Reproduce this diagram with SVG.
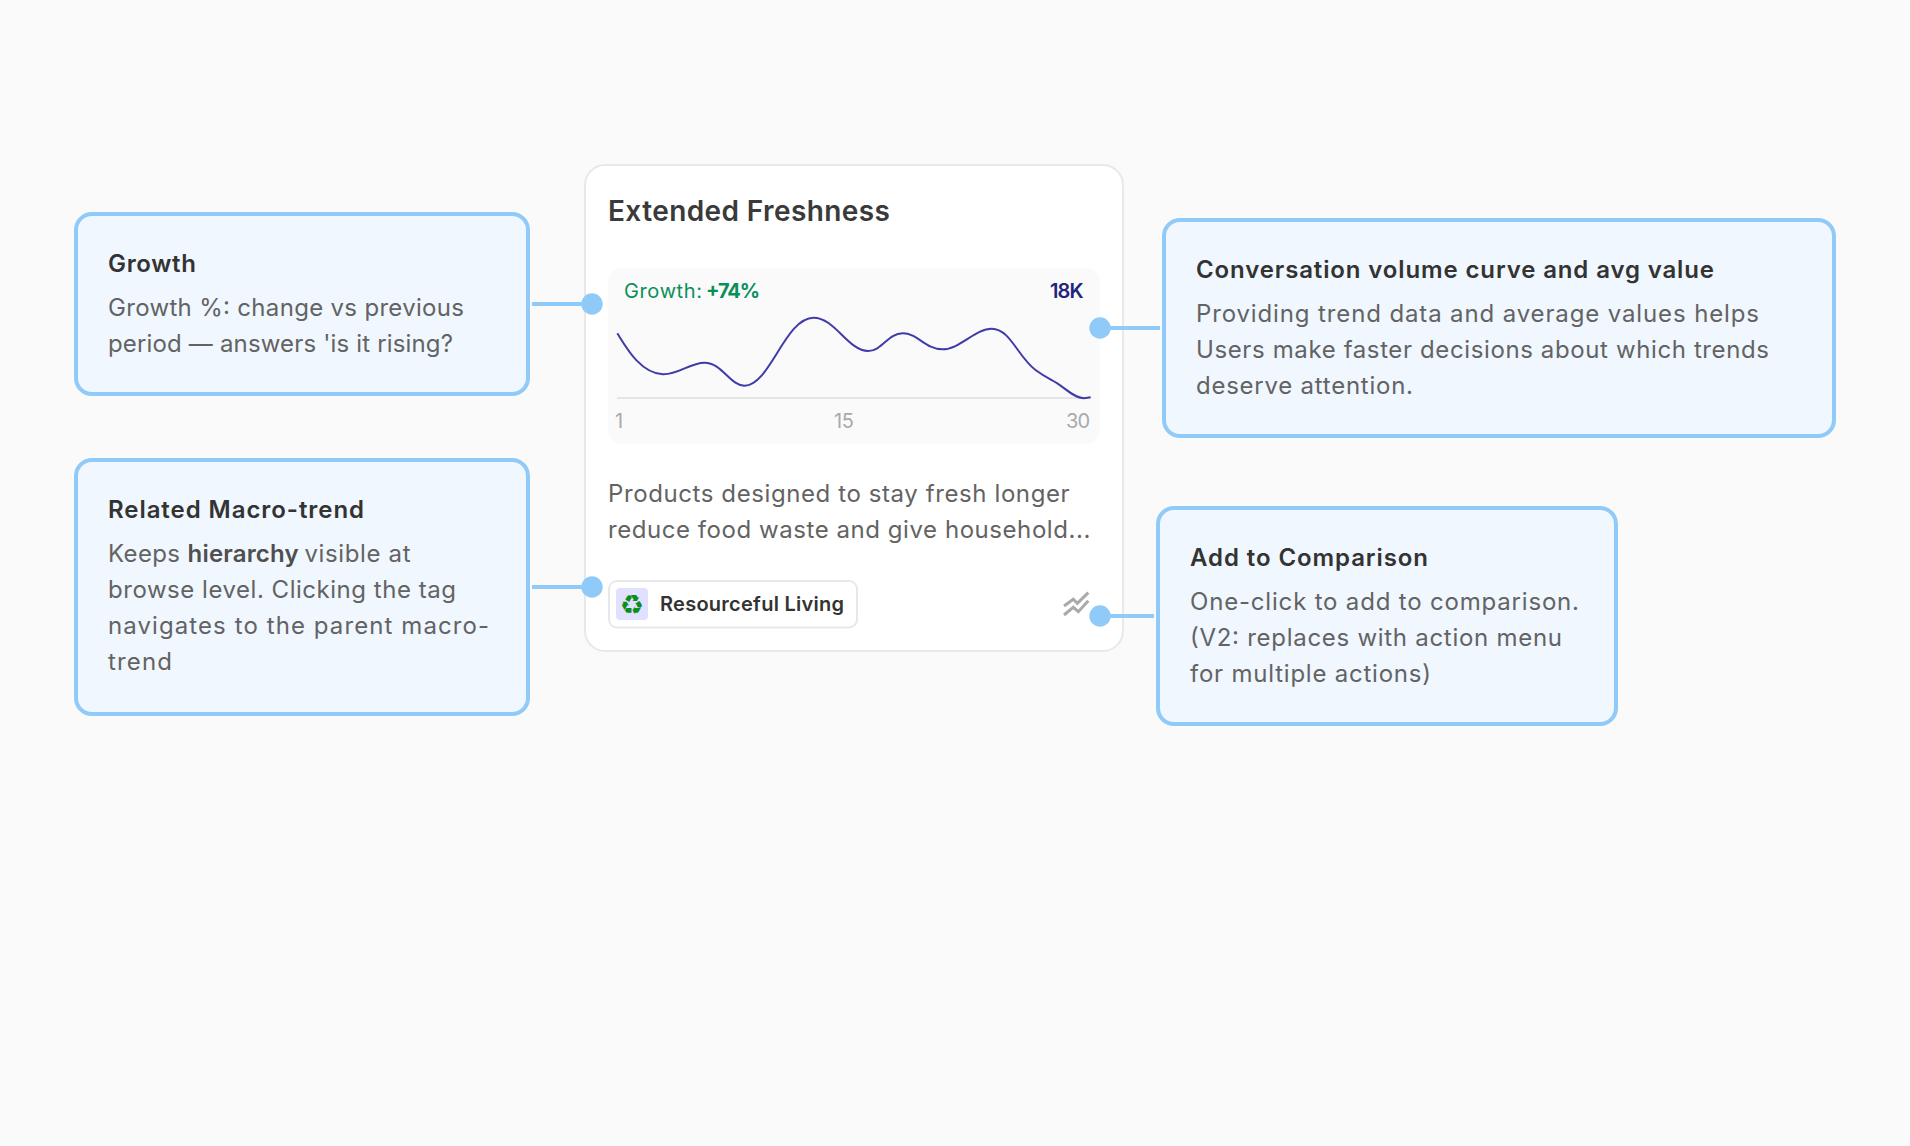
<svg xmlns="http://www.w3.org/2000/svg" width="1910" height="1146" viewBox="0 0 1910 1146">
<style>
text{font-family:"Inter","Noto Sans","Liberation Sans",sans-serif}
.box{fill:#F0F7FF;stroke:#90CAF9;stroke-width:4}
.h{font-size:24px;font-weight:600;fill:#333}
.b{font-size:24px;font-weight:400;fill:#636363}
.s{font-size:24px;font-weight:600;fill:#4f4f4f}
.ax{font-size:20px;fill:#aaa}
.ln{stroke:#90CAF9;stroke-width:4;fill:none}
.dot{fill:#90CAF9}
</style>
<rect width="1910" height="1146" fill="#FAFAFA"/>
<g id="card">
<rect x="585" y="165" width="538" height="486" rx="20" fill="#fff" stroke="#E8E8E8" stroke-width="2"/>
<text x="608" y="221" font-size="28" font-weight="600" fill="#3a3a3a" textLength="282">Extended Freshness</text>
<rect x="608" y="268" width="492" height="176" rx="14" fill="#FAFAFA"/>
<text x="624" y="298" font-size="20" fill="#0A8F5B" textLength="78">Growth:</text>
<text x="706" y="298" font-size="20" font-weight="700" fill="#0A8F5B" textLength="54">+74%</text>
<text x="1050" y="298" font-size="20" font-weight="600" fill="#23237A" textLength="33.500">18K</text>
<path d="M617 398H1090" stroke="#E5E5E5" stroke-width="2" fill="none"/>
<path d="M617.3 333.3C626 347 640 373 662.7 374.3C678 375 690 362.7 704.5 362.7C722 362.7 730 385.7 744.5 385.7C770 385.7 785 317.7 813.6 317.7C835 317.7 848 351 868.2 351C882 351 888 333.3 902.7 333.3C918 333.3 925 349.3 942.7 349.3C960 349.3 975 328.7 991.8 328.7C1010 328.7 1018 357 1035.5 370C1045 377 1052 380 1057.3 383.3C1066 389 1075 398.3 1084 398.3L1090.7 397.3" stroke="#3F3BA8" stroke-width="2" fill="none"/>
<text class="ax" x="615" y="428">1</text>
<text class="ax" x="834" y="428" textLength="20">15</text>
<text class="ax" x="1066" y="428" textLength="24">30</text>
<text class="b" x="608" y="502" textLength="461.600">Products designed to stay fresh longer</text>
<text class="b" x="608" y="538" textLength="482.300">reduce food waste and give household...</text>
<g id="tag">
<rect x="609" y="581" width="248" height="46.500" rx="8" fill="#fff" stroke="#E8E8E8" stroke-width="2"/>
<rect x="616" y="588" width="32" height="32" rx="4" fill="#E0E0FF"/>
<text x="632" y="614" font-size="27" font-weight="700" text-anchor="middle" fill="#0A8F1A" style="font-family:'DejaVu Sans',sans-serif">♻</text>
<text x="660" y="611" font-size="20" font-weight="600" fill="#333" textLength="184">Resourceful Living</text>
</g>
<path d="M1064 606L1073.300 599.300L1077.300 603.300L1088.300 592.700M1064 615L1073.300 607.300L1078.300 611.700L1088.300 600.700" stroke="#AAA" stroke-width="3" fill="none"/>
</g>
<g id="connectors">
<path class="ln" d="M532 304H592"/><circle class="dot" cx="592" cy="304" r="10.700"/>
<path class="ln" d="M532 587H592"/><circle class="dot" cx="592" cy="587" r="10.700"/>
<path class="ln" d="M1100 328H1160"/><circle class="dot" cx="1100" cy="328" r="10.700"/>
<path class="ln" d="M1100 616H1154"/><circle class="dot" cx="1100" cy="616" r="10.700"/>
</g>
<g id="growth">
<rect class="box" x="76" y="214" width="452" height="180" rx="16"/>
<text class="h" x="108" y="272" textLength="88">Growth</text>
<text class="b" x="108" y="316" textLength="356">Growth %: change vs previous</text>
<text class="b" x="108" y="352" textLength="345">period — answers 'is it rising?</text>
</g>
<g id="macro">
<rect class="box" x="76" y="460" width="452" height="254" rx="16"/>
<text class="h" x="108" y="518" textLength="256">Related Macro-trend</text>
<text class="b" x="108" y="562" textLength="72">Keeps</text>
<text class="s" x="187.600" y="562" textLength="111">hierarchy</text>
<text class="b" x="304.500" y="562" textLength="106">visible at</text>
<text class="b" x="108" y="598" textLength="348">browse level. Clicking the tag</text>
<text class="b" x="108" y="634" textLength="381">navigates to the parent macro-</text>
<text class="b" x="108" y="670" textLength="64">trend</text>
</g>
<g id="conversation">
<rect class="box" x="1164" y="220" width="670" height="216" rx="16"/>
<text class="h" x="1196" y="278" textLength="518">Conversation volume curve and avg value</text>
<text class="b" x="1196" y="322" textLength="563">Providing trend data and average values helps</text>
<text class="b" x="1196" y="358" textLength="573">Users make faster decisions about which trends</text>
<text class="b" x="1196" y="394" textLength="217">deserve attention.</text>
</g>
<g id="comparison">
<rect class="box" x="1158" y="508" width="458" height="216" rx="16"/>
<text class="h" x="1190" y="566" textLength="238">Add to Comparison</text>
<text class="b" x="1190" y="610" textLength="389">One-click to add to comparison.</text>
<text class="b" x="1190" y="646" textLength="372">(V2: replaces with action menu</text>
<text class="b" x="1190" y="682" textLength="241">for multiple actions)</text>
</g>
</svg>
